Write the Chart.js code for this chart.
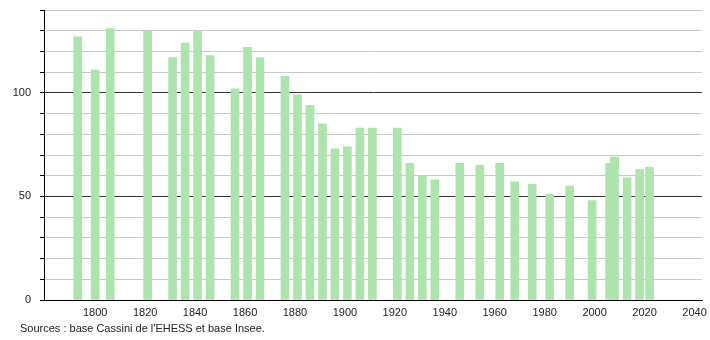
<!DOCTYPE html>
<html>
<head>
<meta charset="utf-8">
<script src="https://cdn.jsdelivr.net/npm/chart.js@4/dist/chart.umd.min.js"></script>
<style>
  html, body { margin: 0; padding: 0; background: #fff; }
  #wrap { position: relative; width: 710px; height: 340px; }
  #sources {
    position: absolute; left: 20px; top: 322px;
    font: 11px "Liberation Sans", Arial, sans-serif; color: #222;
  }
</style>
</head>
<body>
<div id="wrap">
  <canvas id="popChart" width="710" height="340"></canvas>
  <div id="sources">Sources : base Cassini de l'EHESS et base Insee.</div>
</div>
<script>
// Census years and population
const years = [1793, 1800, 1806, 1821, 1831, 1836, 1841, 1846, 1856, 1861, 1866,
               1876, 1881, 1886, 1891, 1896, 1901, 1906, 1911, 1921, 1926, 1931,
               1936, 1946, 1954, 1962, 1968, 1975, 1982, 1990, 1999, 2006, 2008,
               2013, 2018, 2022];
const population = [127, 111, 131, 130, 117, 124, 130, 118, 102, 122, 117,
                    108, 99, 94, 85, 73, 74, 83, 83, 83, 66, 60,
                    58, 66, 65, 66, 57, 56, 51, 55, 48, 66, 69,
                    59, 63, 64];
const xTicks = [1800, 1820, 1840, 1860, 1880, 1900, 1920, 1940, 1960, 1980, 2000, 2020, 2040];
const yLabels = [0, 50, 100];

const font = { family: '"Liberation Sans", Arial, sans-serif', size: 11 };

const ctx = document.getElementById('popChart').getContext('2d');
new Chart(ctx, {
    type: 'bar',
    data: {
        datasets: [{
            data: years.map((y, i) => ({ x: y, y: population[i] })),
            backgroundColor: '#ade3ad',
            borderWidth: 0,
            barThickness: 8
        }]
    },
    options: {
        responsive: false,
        animation: false,
        layout: { padding: { top: 10, right: 8, left: 0, bottom: 0 } },
        plugins: { legend: { display: false }, tooltip: { enabled: false } },
        scales: {
            x: {
                type: 'linear',
                offset: false,
                min: 1779.5,
                max: 2043,
                afterBuildTicks: (scale) => { scale.ticks = xTicks.map(v => ({ value: v })); },
                afterFit: (scale) => { scale.height = 40; scale.paddingLeft = 0; scale.paddingRight = 0; },
                grid: { display: false, drawTicks: false, offset: false },
                border: { display: true, color: '#000', width: 1 },
                ticks: { color: '#222', font: font, padding: 6, maxRotation: 0, callback: (v) => String(v) }
            },
            y: {
                min: 0,
                max: 140,
                afterFit: (scale) => { scale.width = 44; scale.paddingTop = 0; scale.paddingBottom = 0; },
                grid: {
                    color: (c) => (c.tick.value === 50 || c.tick.value === 100) ? '#333' : '#c8c8c8',
                    tickColor: '#000',
                    tickLength: 4,
                    lineWidth: 1
                },
                border: { display: true, color: '#000', width: 1 },
                ticks: {
                    stepSize: 10,
                    color: '#222',
                    font: font,
                    padding: 9,
                    callback: (v) => yLabels.includes(v) ? v : ''
                }
            }
        }
    }
});
</script>
</body>
</html>
